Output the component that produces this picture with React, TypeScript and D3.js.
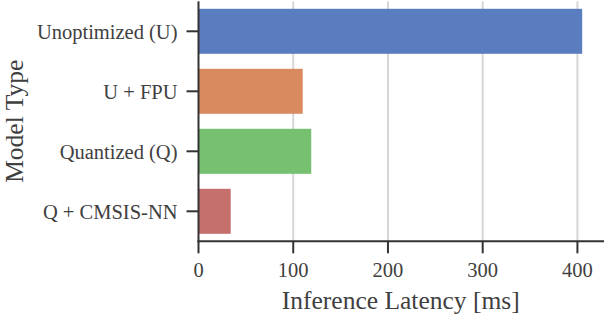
import * as d3 from "d3";
import React from "react";

const categories = ["Unoptimized (U)", "U + FPU", "Quantized (Q)", "Q + CMSIS-NN"];
const latency = [405, 110, 119, 34];
const barColors = ["#5a7dbf", "#d98b5f", "#76c06f", "#c6706e"];
const xTicks = [0, 100, 200, 300, 400];

const W = 604;
const H = 316;
const left = 198.5;
const right = 603;
const top = 1.3;
const bottom = 241.3;
const ink = "#333333";
const textInk = "#404040";
const font = "'Liberation Serif', 'Times New Roman', serif";

export default function App() {
  const x = d3.scaleLinear().domain([0, 427]).range([left, right]);
  const y = d3
    .scaleBand<string>()
    .domain(categories)
    .range([top, bottom])
    .paddingInner(0.25)
    .paddingOuter(0.125);

  return (
    <svg
      width={W}
      height={H}
      style={{ position: "absolute", left: 0, top: 0, background: "#fff" }}
      fontFamily={font}
    >
      {/* grid */}
      {xTicks.slice(1).map((t) => (
        <line key={"g" + t} x1={x(t)} x2={x(t)} y1={top} y2={bottom} stroke="#d6d6d6" strokeWidth={2} />
      ))}

      {/* bars */}
      {categories.map((c, i) => (
        <rect
          key={c}
          x={x(0)}
          y={y(c)}
          width={x(latency[i]) - x(0)}
          height={y.bandwidth()}
          fill={barColors[i]}
        />
      ))}

      {/* y axis */}
      <line x1={left} x2={left} y1={top} y2={bottom + 1} stroke={ink} strokeWidth={2} />
      {categories.map((c) => {
        const cy = (y(c) as number) + y.bandwidth() / 2;
        return (
          <g key={"t" + c}>
            <line x1={left - 12} x2={left} y1={cy} y2={cy} stroke={ink} strokeWidth={2} />
            <text x={left - 21} y={cy} dy="0.36em" textAnchor="end" fontSize={20.5} fill={textInk}>
              {c}
            </text>
          </g>
        );
      })}

      {/* x axis */}
      <line x1={left - 1} x2={W} y1={bottom} y2={bottom} stroke={ink} strokeWidth={2} />
      {xTicks.map((t) => (
        <g key={"x" + t}>
          <line x1={x(t)} x2={x(t)} y1={bottom} y2={bottom + 12} stroke={ink} strokeWidth={2} />
          <text x={x(t)} y={277} textAnchor="middle" fontSize={20.5} fill={textInk}>
            {t}
          </text>
        </g>
      ))}

      <text x={(left + right) / 2} y={309} textAnchor="middle" fontSize={25.5} fill={textInk}>
        Inference Latency [ms]
      </text>
      <text
        transform={`translate(${23},${(top + bottom) / 2}) rotate(-90)`}
        textAnchor="middle"
        fontSize={25.5}
        fill={textInk}
      >
        Model Type
      </text>
    </svg>
  );
}
